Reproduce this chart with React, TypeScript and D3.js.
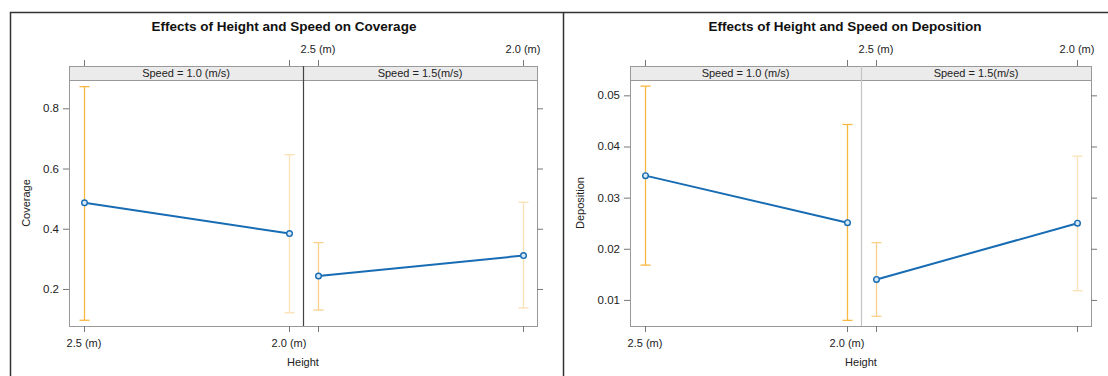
import React from "react";
import * as d3 from "d3";

const heights = ["2.5 (m)", "2.0 (m)"];
const speeds = ["Speed = 1.0 (m/s)", "Speed = 1.5(m/s)"];

// Coverage: [speed panel][height]
const coverageFit = [[0.486, 0.384], [0.243, 0.311]];
const coverageLower = [[0.096, 0.121], [0.13, 0.137]];
const coverageUpper = [[0.872, 0.646], [0.354, 0.488]];
const coverageTicks = [0.2, 0.4, 0.6, 0.8];

const depositionFit = [[0.0343, 0.0251], [0.014, 0.025]];
const depositionLower = [[0.0168, 0.006], [0.0068, 0.0118]];
const depositionUpper = [[0.0518, 0.0443], [0.0212, 0.0381]];
const depositionTicks = [0.01, 0.02, 0.03, 0.04, 0.05];

const FONT = "'Liberation Sans', Arial, sans-serif";
const BLUE = "#176cb3";

type ChartProps = {
  title: string;
  yLabel: string;
  fit: number[][];
  lower: number[][];
  upper: number[][];
  ticks: number[];
  tickFmt: (v: number) => string;
  yDomain: [number, number];
  panelX: [number, number, number];
  centerX: number;
  yTitleX: number;
  dividerColor: string;
  errColors: string[][];
};

function Chart(p: ChartProps) {
  const stripTop = 66;
  const stripBottom = 80;
  const bottom = 326;
  const y = d3.scaleLinear().domain(p.yDomain).range([bottom, stripBottom]);
  const panels = [0, 1].map((i) => {
    const x0 = p.panelX[i];
    const x1 = p.panelX[i + 1];
    const x = d3.scalePoint<string>().domain(heights).range([x0 + 15, x1 - 14]);
    return { x0, x1, x };
  });
  const line = d3.line<[number, number]>().x((d) => d[0]).y((d) => d[1]);
  const [L, M, R] = p.panelX;
  return (
    <g fontFamily={FONT}>
      <text x={p.centerX} y={31} textAnchor="middle" fontSize={13.5} fontWeight="bold" fill="#111">
        {p.title}
      </text>
      {/* panel borders */}
      <rect x={L + 0.5} y={stripTop + 0.5} width={R - L} height={bottom - stripTop} fill="white" stroke="#999" />
      {panels.map((pn, i) => (
        <g key={i}>
          <rect x={pn.x0 + 0.5} y={stripTop + 0.5} width={pn.x1 - pn.x0} height={stripBottom - stripTop} fill="#ebebeb" stroke="#999" />
          <text x={(pn.x0 + pn.x1) / 2} y={stripTop + 11} textAnchor="middle" fontSize={11} fill="#222">
            {speeds[i]}
          </text>
          {heights.map((h) => (
            <g key={h}>
              <line x1={pn.x(h)! + 0.5} x2={pn.x(h)! + 0.5} y1={stripTop - 6} y2={stripTop} stroke="#777" />
              <line x1={pn.x(h)! + 0.5} x2={pn.x(h)! + 0.5} y1={bottom} y2={bottom + 6} stroke="#777" />
            </g>
          ))}
        </g>
      ))}
      <line x1={M + 0.5} x2={M + 0.5} y1={stripTop} y2={bottom} stroke={p.dividerColor} strokeWidth={1.2} />
      {/* bottom labels under panel 1 */}
      {heights.map((h) => (
        <text key={"b" + h} x={panels[0].x(h)} y={347} textAnchor="middle" fontSize={11} fill="#222">
          {h}
        </text>
      ))}
      {/* top labels over panel 2 */}
      {heights.map((h) => (
        <text key={"t" + h} x={panels[1].x(h)} y={53} textAnchor="middle" fontSize={11} fill="#222">
          {h}
        </text>
      ))}
      <text x={M} y={366} textAnchor="middle" fontSize={11} fill="#222">
        Height
      </text>
      {/* y axis */}
      {p.ticks.map((t) => (
        <g key={t}>
          <line x1={L - 6} x2={L} y1={y(t) + 0.5} y2={y(t) + 0.5} stroke="#777" />
          <line x1={R} x2={R + 6} y1={y(t) + 0.5} y2={y(t) + 0.5} stroke="#777" />
          <text x={L - 10} y={y(t) + 4} textAnchor="end" fontSize={11.5} fill="#222">
            {p.tickFmt(t)}
          </text>
        </g>
      ))}
      <text
        transform={`translate(${p.yTitleX},${(stripBottom + bottom) / 2}) rotate(-90)`}
        textAnchor="middle"
        fontSize={11}
        fill="#222"
      >
        {p.yLabel}
      </text>
      {/* data */}
      {panels.map((pn, i) => (
        <g key={"d" + i}>
          {heights.map((h, j) => {
            const cx = pn.x(h)! + 0.5;
            return (
              <g key={h} stroke={p.errColors[i][j]} strokeWidth={1.3}>
                <line x1={cx} x2={cx} y1={y(p.lower[i][j])} y2={y(p.upper[i][j])} />
                <line x1={cx - 5} x2={cx + 5} y1={y(p.lower[i][j])} y2={y(p.lower[i][j])} />
                <line x1={cx - 5} x2={cx + 5} y1={y(p.upper[i][j])} y2={y(p.upper[i][j])} />
              </g>
            );
          })}
          <path
            d={line(heights.map((h, j) => [pn.x(h)! + 0.5, y(p.fit[i][j])]))!}
            fill="none"
            stroke={BLUE}
            strokeWidth={2}
          />
          {heights.map((h, j) => (
            <circle key={h} cx={pn.x(h)! + 0.5} cy={y(p.fit[i][j])} r={2.8} fill="#d6e8f6" stroke={BLUE} strokeWidth={1.4} />
          ))}
        </g>
      ))}
    </g>
  );
}

const STRONG = "#f6b840";
const MID = "#f9d08a";
const LIGHT = "#fbe1b5";

export default function App() {
  return (
    <svg width={1108} height={376} style={{ position: "absolute", left: 0, top: 0, background: "white" }}>
      <rect x={0} y={0} width={1108} height={376} fill="white" />
      <Chart
        title="Effects of Height and Speed on Coverage"
        yLabel="Coverage"
        fit={coverageFit}
        lower={coverageLower}
        upper={coverageUpper}
        ticks={coverageTicks}
        tickFmt={d3.format(".1f")}
        yDomain={[0.077, 0.894]}
        panelX={[69, 303, 537]}
        centerX={284}
        yTitleX={30}
        dividerColor="#444"
        errColors={[[STRONG, LIGHT], [MID, LIGHT]]}
      />
      <Chart
        title="Effects of Height and Speed on Deposition"
        yLabel="Deposition"
        fit={depositionFit}
        lower={depositionLower}
        upper={depositionUpper}
        ticks={depositionTicks}
        tickFmt={d3.format(".2f")}
        yDomain={[0.0049, 0.053]}
        panelX={[630, 861, 1091]}
        centerX={845}
        yTitleX={584}
        dividerColor="#c4c4c4"
        errColors={[[STRONG, STRONG], [MID, LIGHT]]}
      />
      {/* outer frames */}
      <path d="M10.5,376 V12.5 H1108" fill="none" stroke="#333" strokeWidth={1.5} />
      <line x1={563.5} x2={563.5} y1={12.5} y2={376} stroke="#333" strokeWidth={1.5} />
    </svg>
  );
}
